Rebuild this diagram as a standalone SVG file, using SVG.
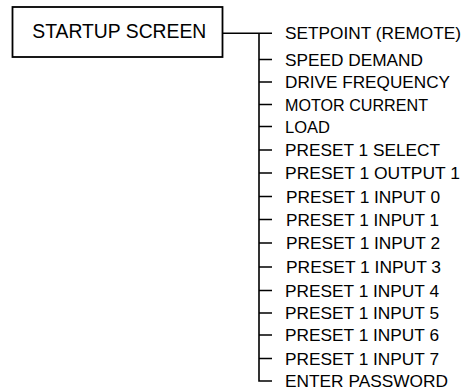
<svg xmlns="http://www.w3.org/2000/svg" width="467" height="391" viewBox="0 0 467 391">
<style>
.t{font-family:"Liberation Sans",Arial,sans-serif;font-size:17px;fill:#000}
.b{font-family:"Liberation Sans",Arial,sans-serif;font-size:19.5px;fill:#000}
.ln{stroke:#000;stroke-width:1.6;fill:none}
</style>
<rect width="467" height="391" fill="#fff"/>
<g id="startup">
<rect x="12.5" y="7" width="210" height="50" fill="#fff" stroke="#000" stroke-width="1.8"/>
<text class="b" x="32.3" y="38.3" textLength="174" lengthAdjust="spacingAndGlyphs">STARTUP SCREEN</text>
</g>
<g id="connectors" class="ln">
<path d="M222.5 33.3H272M259 33.3V381H272"/>
<path d="M259 59.5H272M259 82H272M259 104.5H272M259 126.5H272M259 150H272M259 173H272M259 196.5H272M259 219.5H272M259 243H272M259 267H272M259 290.5H272M259 313H272M259 335H272M259 358.5H272"/>
</g>
<g id="items">
<text class="t" x="285" y="39.3" textLength="176" lengthAdjust="spacingAndGlyphs">SETPOINT (REMOTE)</text>
<text class="t" x="285" y="65.5" textLength="138" lengthAdjust="spacingAndGlyphs">SPEED DEMAND</text>
<text class="t" x="285" y="88" textLength="165" lengthAdjust="spacingAndGlyphs">DRIVE FREQUENCY</text>
<text class="t" x="285" y="110.5" textLength="143" lengthAdjust="spacingAndGlyphs">MOTOR CURRENT</text>
<text class="t" x="285" y="132.5" textLength="45" lengthAdjust="spacingAndGlyphs">LOAD</text>
<text class="t" x="285" y="156" textLength="155" lengthAdjust="spacingAndGlyphs">PRESET 1 SELECT</text>
<text class="t" x="285" y="179" textLength="175" lengthAdjust="spacingAndGlyphs">PRESET 1 OUTPUT 1</text>
<text class="t" x="286" y="202.5" textLength="154" lengthAdjust="spacingAndGlyphs">PRESET 1 INPUT 0</text>
<text class="t" x="286" y="225.5" textLength="153" lengthAdjust="spacingAndGlyphs">PRESET 1 INPUT 1</text>
<text class="t" x="286" y="249" textLength="154" lengthAdjust="spacingAndGlyphs">PRESET 1 INPUT 2</text>
<text class="t" x="286" y="273" textLength="155" lengthAdjust="spacingAndGlyphs">PRESET 1 INPUT 3</text>
<text class="t" x="285" y="296.5" textLength="154" lengthAdjust="spacingAndGlyphs">PRESET 1 INPUT 4</text>
<text class="t" x="285" y="319" textLength="154" lengthAdjust="spacingAndGlyphs">PRESET 1 INPUT 5</text>
<text class="t" x="285" y="341" textLength="154" lengthAdjust="spacingAndGlyphs">PRESET 1 INPUT 6</text>
<text class="t" x="285" y="364.5" textLength="154" lengthAdjust="spacingAndGlyphs">PRESET 1 INPUT 7</text>
<text class="t" x="285" y="387" textLength="163" lengthAdjust="spacingAndGlyphs">ENTER PASSWORD</text>
</g>
</svg>
